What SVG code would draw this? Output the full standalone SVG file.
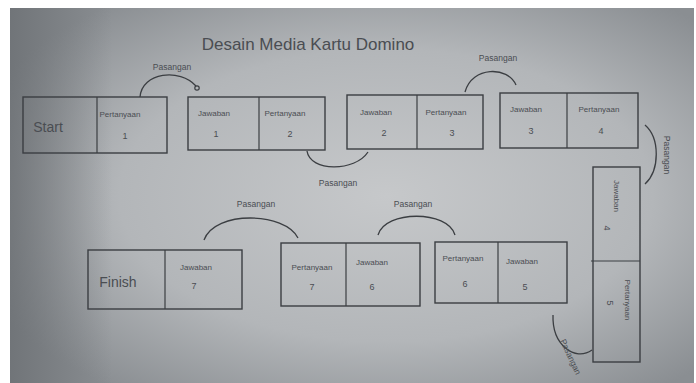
<svg xmlns="http://www.w3.org/2000/svg" width="696" height="383" viewBox="0 0 696 383">
<defs>
<radialGradient id="bg" cx="0.55" cy="0.5" r="0.65">
<stop offset="0" stop-color="#c6c8ca"/>
<stop offset="0.6" stop-color="#b3b6b9"/>
<stop offset="1" stop-color="#8a8e92"/>
</radialGradient>
<linearGradient id="lv" x1="0" y1="0" x2="1" y2="0">
<stop offset="0" stop-color="#6a6e72" stop-opacity="0.8"/>
<stop offset="0.15" stop-color="#6a6e72" stop-opacity="0"/>
<stop offset="1" stop-color="#6a6e72" stop-opacity="0"/>
</linearGradient>
<style>
.box{fill:none;stroke:#3b3e42;stroke-width:1.4}
.div{stroke:#3b3e42;stroke-width:1.2}
.arc{fill:none;stroke:#3b3e42;stroke-width:1.3}
.t{font-family:"Liberation Sans",Arial,sans-serif;fill:#4a4d52;text-anchor:middle}
.s{font-size:8px}
.n{font-size:9px}
.lab{font-size:8.5px}
.big{font-size:14px}
.title{font-size:17px}
</style>
</defs>
<rect x="0" y="0" width="696" height="383" fill="#ffffff"/>
<rect x="10" y="8" width="684" height="375" fill="url(#bg)"/>
<rect x="10" y="8" width="684" height="375" fill="url(#lv)"/>

<g id="title">
<text class="t title" x="308" y="50">Desain Media Kartu Domino</text>
</g>

<g id="connectors">
<path class="arc" d="M140,97 C142,72 180,68 196,86"/>
<circle cx="197" cy="88" r="2.2" fill="none" stroke="#3b3e42" stroke-width="1.2"/>
<text class="t lab" x="172" y="70">Pasangan</text>
<path class="arc" d="M307,151 C310,172 355,172 368,152"/>
<text class="t lab" x="338" y="186">Pasangan</text>
<path class="arc" d="M465,92 C472,66 508,66 516,85"/>
<text class="t lab" x="498" y="61">Pasangan</text>
<path class="arc" d="M645,125 C660,138 660,170 645,184"/>
<text class="t lab" transform="translate(664,155) rotate(90)" x="0" y="0">Pasangan</text>
<path class="arc" d="M553,315 C552,345 575,362 592,350"/>
<text class="t lab" transform="translate(568,358) rotate(65)" x="0" y="0">Pasangan</text>
<path class="arc" d="M204,240 C215,210 285,212 298,238"/>
<text class="t lab" x="256" y="207">Pasangan</text>
<path class="arc" d="M378,235 C385,210 448,210 455,235"/>
<text class="t lab" x="413" y="207">Pasangan</text>
</g>

<g id="node-start">
<rect class="box" x="23" y="97" width="144" height="56"/>
<line class="div" x1="97" y1="97" x2="97" y2="153"/>
<text class="t big" x="48" y="132">Start</text>
<text class="t s" x="120" y="117">Pertanyaan</text>
<text class="t n" x="125" y="139">1</text>
</g>

<g id="node-j1-p2">
<rect class="box" x="188" y="97" width="137" height="53"/>
<line class="div" x1="259" y1="97" x2="259" y2="150"/>
<text class="t s" x="214" y="116">Jawaban</text>
<text class="t n" x="216" y="137">1</text>
<text class="t s" x="285" y="116">Pertanyaan</text>
<text class="t n" x="290" y="137">2</text>
</g>

<g id="node-j2-p3">
<rect class="box" x="347" y="95" width="136" height="54"/>
<line class="div" x1="417" y1="95" x2="417" y2="149"/>
<text class="t s" x="376" y="115">Jawaban</text>
<text class="t n" x="384" y="136">2</text>
<text class="t s" x="446" y="115">Pertanyaan</text>
<text class="t n" x="452" y="136">3</text>
</g>

<g id="node-j3-p4">
<rect class="box" x="500" y="93" width="138" height="55"/>
<line class="div" x1="567" y1="93" x2="567" y2="148"/>
<text class="t s" x="526" y="112">Jawaban</text>
<text class="t n" x="531" y="134">3</text>
<text class="t s" x="599" y="112">Pertanyaan</text>
<text class="t n" x="601" y="134">4</text>
</g>

<g id="node-j4-p5">
<rect class="box" x="593" y="167" width="47" height="195"/>
<line class="div" x1="591" y1="261" x2="640" y2="261"/>
<text class="t s" transform="translate(614,196) rotate(90)" x="0" y="0">Jawaban</text>
<text class="t n" transform="translate(604,228) rotate(90)" x="0" y="0">4</text>
<text class="t s" transform="translate(625,300) rotate(90)" x="0" y="0">Pertanyaan</text>
<text class="t n" transform="translate(607,303) rotate(90)" x="0" y="0">5</text>
</g>

<g id="node-p6-j5">
<rect class="box" x="435" y="242" width="132" height="61"/>
<line class="div" x1="498" y1="242" x2="498" y2="303"/>
<text class="t s" x="463" y="261">Pertanyaan</text>
<text class="t n" x="465" y="287">6</text>
<text class="t s" x="522" y="264">Jawaban</text>
<text class="t n" x="525" y="290">5</text>
</g>

<g id="node-p7-j6">
<rect class="box" x="281" y="243" width="139" height="63"/>
<line class="div" x1="346" y1="243" x2="346" y2="306"/>
<text class="t s" x="312" y="270">Pertanyaan</text>
<text class="t n" x="312" y="290">7</text>
<text class="t s" x="372" y="265">Jawaban</text>
<text class="t n" x="372" y="290">6</text>
</g>

<g id="node-finish">
<rect class="box" x="88" y="250" width="154" height="59"/>
<line class="div" x1="165" y1="250" x2="165" y2="309"/>
<text class="t big" x="118" y="287">Finish</text>
<text class="t s" x="196" y="270">Jawaban</text>
<text class="t n" x="194" y="289">7</text>
</g>
</svg>
